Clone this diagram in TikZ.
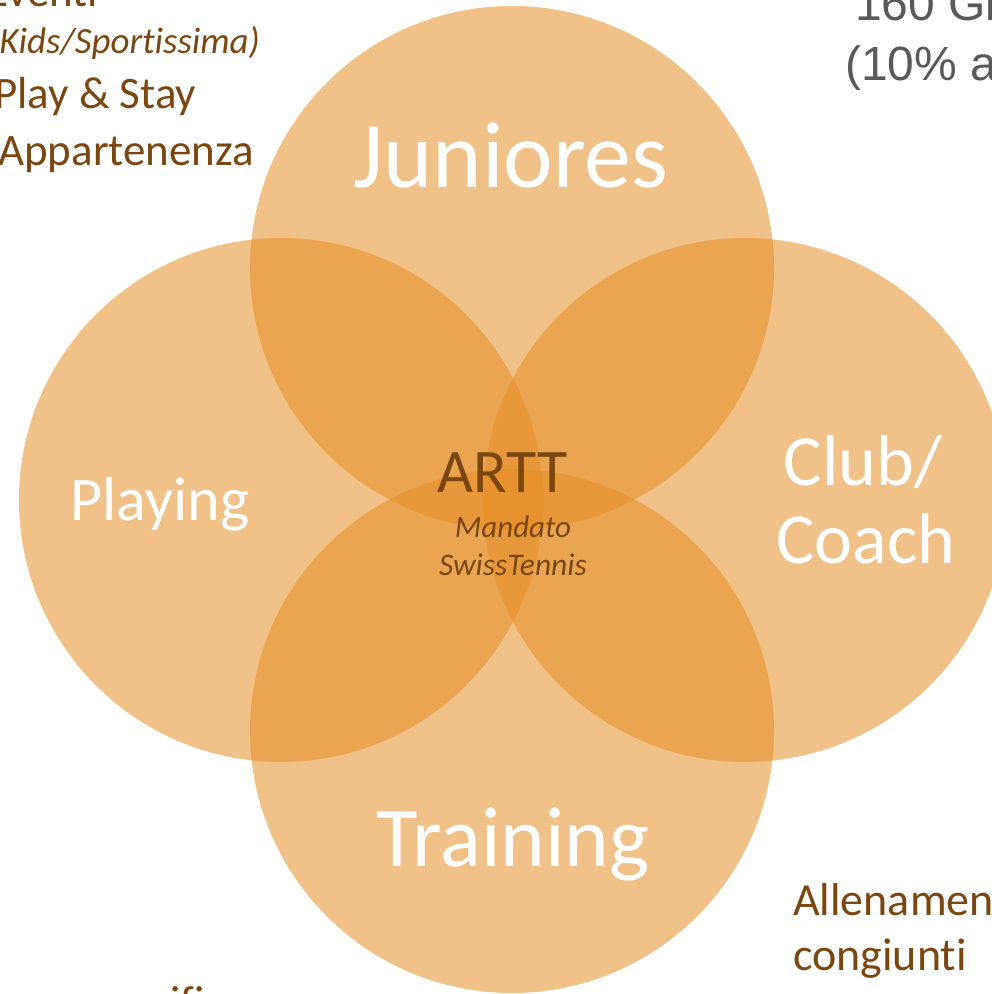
\documentclass[tikz,border=0pt]{standalone}
\usepackage{fontspec}
\setmainfont{Carlito}[Ligatures=NoCommon]
\newfontfamily\arialfont{Liberation Sans}
\definecolor{circfill}{HTML}{E48E27}
\definecolor{txtbrown}{HTML}{7B4711}
\definecolor{txtgrey}{HTML}{595959}
\begin{document}
\begin{tikzpicture}[x=1pt,y=-1pt,
  circ/.style={circle, fill=circfill, fill opacity=0.55, minimum size=524pt, inner sep=0pt},
  biglbl/.style={inner sep=0pt, anchor=base, text=white},
  sidetxt/.style={inner sep=0pt, anchor=base west, text=txtbrown},
  greytxt/.style={inner sep=0pt, anchor=base west, text=txtgrey, font=\arialfont\fontsize{48pt}{56pt}\selectfont},
  centertxt/.style={inner sep=0pt, anchor=base, text=txtbrown}]
\useasboundingbox (0,0) rectangle (992,994);
% circles
\node[circ] (ctop) at (512,268) {};
\node[circ] (cleft) at (281,500) {};
\node[circ] (cright) at (745,500) {};
\node[circ] (cbottom) at (512,731) {};
% circle labels
\node[biglbl, font=\fontsize{94pt}{112pt}\selectfont] (juniores) at (511,187) {Juniores};
\node[biglbl, font=\fontsize{85pt}{102pt}\selectfont] (training) at (513,866) {Training};
\node[biglbl, font=\fontsize{62pt}{74pt}\selectfont] (playing) at (160,520) {Playing};
\node[biglbl, font=\fontsize{72pt}{86pt}\selectfont] (club) at (863,485) {Club/};
\node[biglbl, font=\fontsize{72pt}{86pt}\selectfont] (coach) at (866,563) {Coach};
% centre
\node[centertxt, font=\fontsize{62pt}{74pt}\selectfont] (artt) at (503,492) {ARTT};
\node[centertxt, font=\itshape\fontsize{31pt}{37pt}\selectfont] (mandato) at (513,537) {Mandato};
\node[centertxt, font=\itshape\fontsize{31.5pt}{37pt}\selectfont] (swiss) at (513,575) {SwissTennis};
% top-left text
\node[sidetxt, font=\fontsize{45pt}{55pt}\selectfont] (eventi) at (-14,6) {Eventi};
\node[sidetxt, font=\itshape\fontsize{37pt}{44pt}\selectfont] (kids) at (-12,53) {(Kids/Sportissima)};
\node[sidetxt, font=\fontsize{45pt}{55pt}\selectfont] (play) at (-6,108) {Play \& Stay};
\node[sidetxt, font=\fontsize{45pt}{55pt}\selectfont] (appart) at (-2,165) {Appartenenza};
% top-right text
\node[greytxt] (gioc) at (855,20) {160 Gi};
\node[greytxt] (perc) at (845,80) {(10\% a};
% bottom-right text
\node[sidetxt, font=\fontsize{46pt}{56pt}\selectfont] (allen) at (793,915) {Allenamenti};
\node[sidetxt, font=\fontsize{46pt}{56pt}\selectfont] (cong) at (793,970) {congiunti};
% bottom-left cut text
\node[sidetxt, font=\fontsize{45pt}{55pt}\selectfont] (ifi) at (170,1017) {ifi};
\end{tikzpicture}
\end{document}
